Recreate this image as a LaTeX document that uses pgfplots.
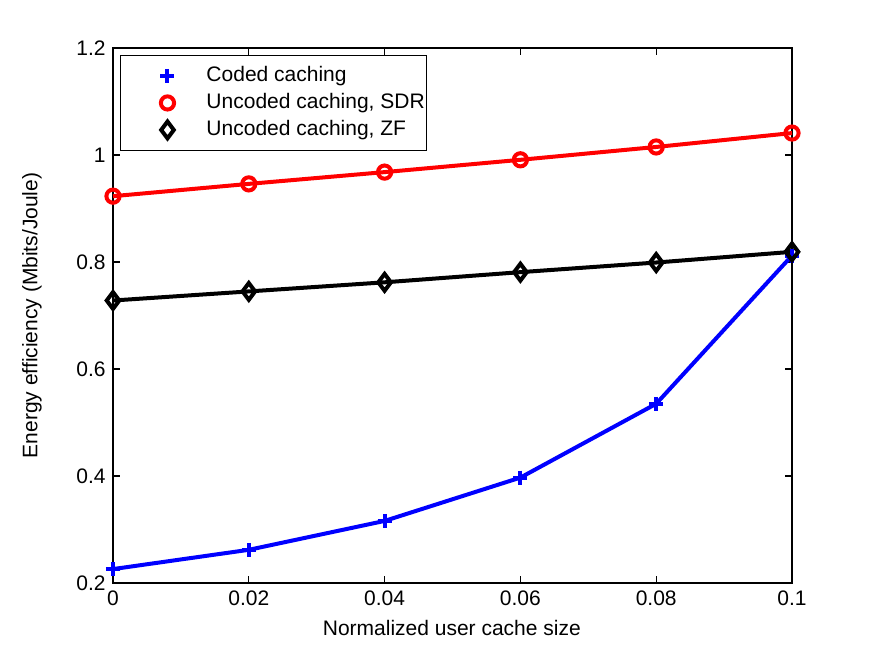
\documentclass[border=0pt]{standalone}
\usepackage{pgfplots}
\pgfplotsset{compat=1.18}
\usepackage{fontspec}
\setmainfont{Liberation Sans}

\begin{document}
\fontsize{10.5}{12.6}\selectfont
\begin{tikzpicture}
% page frame
\path (0pt,0pt) rectangle (436.5pt,328.5pt);
\begin{axis}[
  at={(56.5pt,37pt)}, anchor=south west,
  scale only axis,
  width=339.5pt, height=267.5pt,
  xmin=0, xmax=0.1, ymin=0.2, ymax=1.2,
  xtick={0,0.02,0.04,0.06,0.08,0.1},
  xticklabels={0,0.02,0.04,0.06,0.08,0.1},
  ytick={0.2,0.4,0.6,0.8,1,1.2},
  yticklabels={0.2,0.4,0.6,0.8,1,1.2},
  tick align=inside, tick pos=both,
  major tick length=3.5pt,
  axis line style={line width=0.6pt},
  every tick/.style={black, line width=0.6pt},
  /pgf/number format/assume math mode=true,
  ticklabel style={font=\fontsize{10.5}{12.6}\selectfont},
  label style={font=\fontsize{10.5}{12.6}\selectfont},
  xlabel={Normalized user cache size},
  ylabel={Energy efficiency (Mbits/Joule)},
  xlabel style={at={(axis description cs:0.499,-0.0841)}, anchor=center},
  ylabel style={at={(axis description cs:-0.1193,0.5)}, anchor=center},
  legend cell align=left,
  legend style={
    at={(rel axis cs:0.0103,0.987)}, anchor=north west,
    draw=black, line width=0.5pt,
    font=\fontsize{10.5}{12.6}\selectfont,
    inner xsep=1pt, inner ysep=5pt,
    row sep=3pt,
    nodes={inner sep=0pt, text height=8pt, text depth=2.5pt},
  },
  legend image code/.code={
    \path (0pt,0pt) (40pt,0pt);
    \draw[#1, only marks] plot coordinates {(21.5pt,0pt)};
  },
]
\addplot[blue, line width=2pt, mark=+, mark size=3.5pt,
  mark options={line width=2pt}]
  coordinates {(0,0.226) (0.02,0.262) (0.04,0.316) (0.06,0.397) (0.08,0.535) (0.1,0.812)};
\addlegendentry{Coded caching}
\addplot[red, line width=2pt, mark=o, mark size=3.3pt,
  mark options={line width=2pt}]
  coordinates {(0,0.923) (0.02,0.946) (0.04,0.968) (0.06,0.991) (0.08,1.015) (0.1,1.041)};
\addlegendentry{Uncoded caching, SDR}
\addplot[black, line width=2pt, mark=diamond, mark size=4.2pt,
  mark options={line width=2pt}]
  coordinates {(0,0.728) (0.02,0.745) (0.04,0.762) (0.06,0.781) (0.08,0.799) (0.1,0.819)};
\addlegendentry{Uncoded caching, ZF}
\end{axis}
\end{tikzpicture}
\end{document}
